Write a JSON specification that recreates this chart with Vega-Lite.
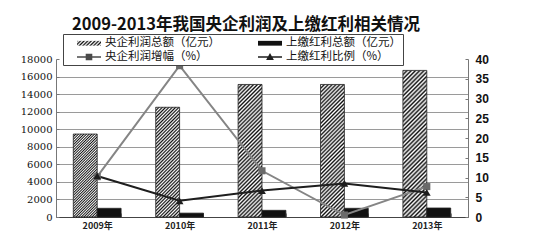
{
  "$schema": "https://vega.github.io/schema/vega-lite/v6.json",
  "width": 412,
  "height": 158,
  "autosize": "none",
  "padding": {"left": 56, "top": 59, "right": 72, "bottom": 23},
  "background": "white",
  "title": {"text": "2009-2013年我国央企利润及上缴红利相关情况", "font": "Noto Sans CJK SC", "fontSize": 16.5, "fontWeight": "bold", "color": "#111", "anchor": "middle", "dx": -16, "dy": 1, "offset": 1},
  "datasets": {
    "bars": [
      {"year": "2009年", "series": "央企利润总额（亿元）", "amount": 9450},
      {"year": "2009年", "series": "上缴红利总额（亿元）", "amount": 990},
      {"year": "2010年", "series": "央企利润总额（亿元）", "amount": 12500},
      {"year": "2010年", "series": "上缴红利总额（亿元）", "amount": 440},
      {"year": "2011年", "series": "央企利润总额（亿元）", "amount": 15100},
      {"year": "2011年", "series": "上缴红利总额（亿元）", "amount": 760},
      {"year": "2012年", "series": "央企利润总额（亿元）", "amount": 15100},
      {"year": "2012年", "series": "上缴红利总额（亿元）", "amount": 990},
      {"year": "2013年", "series": "央企利润总额（亿元）", "amount": 16700},
      {"year": "2013年", "series": "上缴红利总额（亿元）", "amount": 1025}
    ],
    "pcts": [
      {"year": "2009年", "series": "央企利润增幅（%）", "pct": 10.2},
      {"year": "2010年", "series": "央企利润增幅（%）", "pct": 38.3},
      {"year": "2011年", "series": "央企利润增幅（%）", "pct": 11.7},
      {"year": "2012年", "series": "央企利润增幅（%）", "pct": 0.5},
      {"year": "2013年", "series": "央企利润增幅（%）", "pct": 7.7},
      {"year": "2009年", "series": "上缴红利比例（%）", "pct": 10.4},
      {"year": "2010年", "series": "上缴红利比例（%）", "pct": 4.1},
      {"year": "2011年", "series": "上缴红利比例（%）", "pct": 6.7},
      {"year": "2012年", "series": "上缴红利比例（%）", "pct": 8.5},
      {"year": "2013年", "series": "上缴红利比例（%）", "pct": 6.2}
    ]
  },
  "layer": [
    {
      "data": {"name": "bars"},
      "mark": {"type": "bar", "stroke": "#222", "strokeWidth": 0.8},
      "encoding": {
        "x": {"field": "year", "type": "nominal", "scale": {"paddingInner": 0.42, "paddingOuter": 0.21},
          "axis": {"title": null, "labelAngle": 0, "labelFont": "Noto Sans CJK SC", "labelFontSize": 9, "labelFontWeight": "bold", "labelColor": "#222", "labelPadding": 8, "domainColor": "#444", "domainWidth": 1, "ticks": true, "tickBand": "extent", "tickSize": -4, "tickColor": "#888"}},
        "xOffset": {"field": "series", "type": "nominal", "scale": {"domain": ["央企利润总额（亿元）", "上缴红利总额（亿元）"], "paddingInner": 0, "paddingOuter": 0}},
        "y": {"field": "amount", "type": "quantitative", "scale": {"domain": [0, 18000], "nice": false},
          "axis": {"title": null, "format": "d", "values": [0, 2000, 4000, 6000, 8000, 10000, 12000, 14000, 16000, 18000], "labelFont": "DejaVu Serif", "labelFontSize": 10, "labelColor": "#111", "labelPadding": 7, "domainColor": "#777", "ticks": true, "tickSize": -3, "tickColor": "#777", "grid": true, "gridColor": "#9a9a9a", "gridWidth": 1.2, "gridOpacity": {"condition": {"test": "datum.value === 18000", "value": 0}, "value": 1}}},
        "fill": {
          "condition": [
            {"test": "datum.series === '央企利润总额（亿元）' && datum.year === '2009年'", "value": {"gradient": "linear", "x1": 0, "y1": 0, "x2": 0.344, "y2": 1.19, "stops": [{"offset":0,"color":"#111"},{"offset":0.0125,"color":"#fff"},{"offset":0.025,"color":"#111"},{"offset":0.0375,"color":"#fff"},{"offset":0.05,"color":"#111"},{"offset":0.0625,"color":"#fff"},{"offset":0.075,"color":"#111"},{"offset":0.0875,"color":"#fff"},{"offset":0.1,"color":"#111"},{"offset":0.1125,"color":"#fff"},{"offset":0.125,"color":"#111"},{"offset":0.1375,"color":"#fff"},{"offset":0.15,"color":"#111"},{"offset":0.1625,"color":"#fff"},{"offset":0.175,"color":"#111"},{"offset":0.1875,"color":"#fff"},{"offset":0.2,"color":"#111"},{"offset":0.2125,"color":"#fff"},{"offset":0.225,"color":"#111"},{"offset":0.2375,"color":"#fff"},{"offset":0.25,"color":"#111"},{"offset":0.2625,"color":"#fff"},{"offset":0.275,"color":"#111"},{"offset":0.2875,"color":"#fff"},{"offset":0.3,"color":"#111"},{"offset":0.3125,"color":"#fff"},{"offset":0.325,"color":"#111"},{"offset":0.3375,"color":"#fff"},{"offset":0.35,"color":"#111"},{"offset":0.3625,"color":"#fff"},{"offset":0.375,"color":"#111"},{"offset":0.3875,"color":"#fff"},{"offset":0.4,"color":"#111"},{"offset":0.4125,"color":"#fff"},{"offset":0.425,"color":"#111"},{"offset":0.4375,"color":"#fff"},{"offset":0.45,"color":"#111"},{"offset":0.4625,"color":"#fff"},{"offset":0.475,"color":"#111"},{"offset":0.4875,"color":"#fff"},{"offset":0.5,"color":"#111"},{"offset":0.5125,"color":"#fff"},{"offset":0.525,"color":"#111"},{"offset":0.5375,"color":"#fff"},{"offset":0.55,"color":"#111"},{"offset":0.5625,"color":"#fff"},{"offset":0.575,"color":"#111"},{"offset":0.5875,"color":"#fff"},{"offset":0.6,"color":"#111"},{"offset":0.6125,"color":"#fff"},{"offset":0.625,"color":"#111"},{"offset":0.6375,"color":"#fff"},{"offset":0.65,"color":"#111"},{"offset":0.6625,"color":"#fff"},{"offset":0.675,"color":"#111"},{"offset":0.6875,"color":"#fff"},{"offset":0.7,"color":"#111"},{"offset":0.7125,"color":"#fff"},{"offset":0.725,"color":"#111"},{"offset":0.7375,"color":"#fff"},{"offset":0.75,"color":"#111"},{"offset":0.7625,"color":"#fff"},{"offset":0.775,"color":"#111"},{"offset":0.7875,"color":"#fff"},{"offset":0.8,"color":"#111"},{"offset":0.8125,"color":"#fff"},{"offset":0.825,"color":"#111"},{"offset":0.8375,"color":"#fff"},{"offset":0.85,"color":"#111"},{"offset":0.8625,"color":"#fff"},{"offset":0.875,"color":"#111"},{"offset":0.8875,"color":"#fff"},{"offset":0.9,"color":"#111"},{"offset":0.9125,"color":"#fff"},{"offset":0.925,"color":"#111"},{"offset":0.9375,"color":"#fff"},{"offset":0.95,"color":"#111"},{"offset":0.9625,"color":"#fff"},{"offset":0.975,"color":"#111"},{"offset":0.9875,"color":"#fff"},{"offset":1,"color":"#111"}]}},
            {"test": "datum.series === '央企利润总额（亿元）' && datum.year === '2010年'", "value": {"gradient": "linear", "x1": 0, "y1": 0, "x2": 0.2545, "y2": 1.1632, "stops": [{"offset":0,"color":"#111"},{"offset":0.0125,"color":"#fff"},{"offset":0.025,"color":"#111"},{"offset":0.0375,"color":"#fff"},{"offset":0.05,"color":"#111"},{"offset":0.0625,"color":"#fff"},{"offset":0.075,"color":"#111"},{"offset":0.0875,"color":"#fff"},{"offset":0.1,"color":"#111"},{"offset":0.1125,"color":"#fff"},{"offset":0.125,"color":"#111"},{"offset":0.1375,"color":"#fff"},{"offset":0.15,"color":"#111"},{"offset":0.1625,"color":"#fff"},{"offset":0.175,"color":"#111"},{"offset":0.1875,"color":"#fff"},{"offset":0.2,"color":"#111"},{"offset":0.2125,"color":"#fff"},{"offset":0.225,"color":"#111"},{"offset":0.2375,"color":"#fff"},{"offset":0.25,"color":"#111"},{"offset":0.2625,"color":"#fff"},{"offset":0.275,"color":"#111"},{"offset":0.2875,"color":"#fff"},{"offset":0.3,"color":"#111"},{"offset":0.3125,"color":"#fff"},{"offset":0.325,"color":"#111"},{"offset":0.3375,"color":"#fff"},{"offset":0.35,"color":"#111"},{"offset":0.3625,"color":"#fff"},{"offset":0.375,"color":"#111"},{"offset":0.3875,"color":"#fff"},{"offset":0.4,"color":"#111"},{"offset":0.4125,"color":"#fff"},{"offset":0.425,"color":"#111"},{"offset":0.4375,"color":"#fff"},{"offset":0.45,"color":"#111"},{"offset":0.4625,"color":"#fff"},{"offset":0.475,"color":"#111"},{"offset":0.4875,"color":"#fff"},{"offset":0.5,"color":"#111"},{"offset":0.5125,"color":"#fff"},{"offset":0.525,"color":"#111"},{"offset":0.5375,"color":"#fff"},{"offset":0.55,"color":"#111"},{"offset":0.5625,"color":"#fff"},{"offset":0.575,"color":"#111"},{"offset":0.5875,"color":"#fff"},{"offset":0.6,"color":"#111"},{"offset":0.6125,"color":"#fff"},{"offset":0.625,"color":"#111"},{"offset":0.6375,"color":"#fff"},{"offset":0.65,"color":"#111"},{"offset":0.6625,"color":"#fff"},{"offset":0.675,"color":"#111"},{"offset":0.6875,"color":"#fff"},{"offset":0.7,"color":"#111"},{"offset":0.7125,"color":"#fff"},{"offset":0.725,"color":"#111"},{"offset":0.7375,"color":"#fff"},{"offset":0.75,"color":"#111"},{"offset":0.7625,"color":"#fff"},{"offset":0.775,"color":"#111"},{"offset":0.7875,"color":"#fff"},{"offset":0.8,"color":"#111"},{"offset":0.8125,"color":"#fff"},{"offset":0.825,"color":"#111"},{"offset":0.8375,"color":"#fff"},{"offset":0.85,"color":"#111"},{"offset":0.8625,"color":"#fff"},{"offset":0.875,"color":"#111"},{"offset":0.8875,"color":"#fff"},{"offset":0.9,"color":"#111"},{"offset":0.9125,"color":"#fff"},{"offset":0.925,"color":"#111"},{"offset":0.9375,"color":"#fff"},{"offset":0.95,"color":"#111"},{"offset":0.9625,"color":"#fff"},{"offset":0.975,"color":"#111"},{"offset":0.9875,"color":"#fff"},{"offset":1,"color":"#111"}]}},
            {"test": "datum.series === '央企利润总额（亿元）' && (datum.year === '2011年' || datum.year === '2012年')", "value": {"gradient": "linear", "x1": 0, "y1": 0, "x2": 0.2071, "y2": 1.1436, "stops": [{"offset":0,"color":"#111"},{"offset":0.0125,"color":"#fff"},{"offset":0.025,"color":"#111"},{"offset":0.0375,"color":"#fff"},{"offset":0.05,"color":"#111"},{"offset":0.0625,"color":"#fff"},{"offset":0.075,"color":"#111"},{"offset":0.0875,"color":"#fff"},{"offset":0.1,"color":"#111"},{"offset":0.1125,"color":"#fff"},{"offset":0.125,"color":"#111"},{"offset":0.1375,"color":"#fff"},{"offset":0.15,"color":"#111"},{"offset":0.1625,"color":"#fff"},{"offset":0.175,"color":"#111"},{"offset":0.1875,"color":"#fff"},{"offset":0.2,"color":"#111"},{"offset":0.2125,"color":"#fff"},{"offset":0.225,"color":"#111"},{"offset":0.2375,"color":"#fff"},{"offset":0.25,"color":"#111"},{"offset":0.2625,"color":"#fff"},{"offset":0.275,"color":"#111"},{"offset":0.2875,"color":"#fff"},{"offset":0.3,"color":"#111"},{"offset":0.3125,"color":"#fff"},{"offset":0.325,"color":"#111"},{"offset":0.3375,"color":"#fff"},{"offset":0.35,"color":"#111"},{"offset":0.3625,"color":"#fff"},{"offset":0.375,"color":"#111"},{"offset":0.3875,"color":"#fff"},{"offset":0.4,"color":"#111"},{"offset":0.4125,"color":"#fff"},{"offset":0.425,"color":"#111"},{"offset":0.4375,"color":"#fff"},{"offset":0.45,"color":"#111"},{"offset":0.4625,"color":"#fff"},{"offset":0.475,"color":"#111"},{"offset":0.4875,"color":"#fff"},{"offset":0.5,"color":"#111"},{"offset":0.5125,"color":"#fff"},{"offset":0.525,"color":"#111"},{"offset":0.5375,"color":"#fff"},{"offset":0.55,"color":"#111"},{"offset":0.5625,"color":"#fff"},{"offset":0.575,"color":"#111"},{"offset":0.5875,"color":"#fff"},{"offset":0.6,"color":"#111"},{"offset":0.6125,"color":"#fff"},{"offset":0.625,"color":"#111"},{"offset":0.6375,"color":"#fff"},{"offset":0.65,"color":"#111"},{"offset":0.6625,"color":"#fff"},{"offset":0.675,"color":"#111"},{"offset":0.6875,"color":"#fff"},{"offset":0.7,"color":"#111"},{"offset":0.7125,"color":"#fff"},{"offset":0.725,"color":"#111"},{"offset":0.7375,"color":"#fff"},{"offset":0.75,"color":"#111"},{"offset":0.7625,"color":"#fff"},{"offset":0.775,"color":"#111"},{"offset":0.7875,"color":"#fff"},{"offset":0.8,"color":"#111"},{"offset":0.8125,"color":"#fff"},{"offset":0.825,"color":"#111"},{"offset":0.8375,"color":"#fff"},{"offset":0.85,"color":"#111"},{"offset":0.8625,"color":"#fff"},{"offset":0.875,"color":"#111"},{"offset":0.8875,"color":"#fff"},{"offset":0.9,"color":"#111"},{"offset":0.9125,"color":"#fff"},{"offset":0.925,"color":"#111"},{"offset":0.9375,"color":"#fff"},{"offset":0.95,"color":"#111"},{"offset":0.9625,"color":"#fff"},{"offset":0.975,"color":"#111"},{"offset":0.9875,"color":"#fff"},{"offset":1,"color":"#111"}]}},
            {"test": "datum.series === '央企利润总额（亿元）' && datum.year === '2013年'", "value": {"gradient": "linear", "x1": 0, "y1": 0, "x2": 0.1855, "y2": 1.1334, "stops": [{"offset":0,"color":"#111"},{"offset":0.0125,"color":"#fff"},{"offset":0.025,"color":"#111"},{"offset":0.0375,"color":"#fff"},{"offset":0.05,"color":"#111"},{"offset":0.0625,"color":"#fff"},{"offset":0.075,"color":"#111"},{"offset":0.0875,"color":"#fff"},{"offset":0.1,"color":"#111"},{"offset":0.1125,"color":"#fff"},{"offset":0.125,"color":"#111"},{"offset":0.1375,"color":"#fff"},{"offset":0.15,"color":"#111"},{"offset":0.1625,"color":"#fff"},{"offset":0.175,"color":"#111"},{"offset":0.1875,"color":"#fff"},{"offset":0.2,"color":"#111"},{"offset":0.2125,"color":"#fff"},{"offset":0.225,"color":"#111"},{"offset":0.2375,"color":"#fff"},{"offset":0.25,"color":"#111"},{"offset":0.2625,"color":"#fff"},{"offset":0.275,"color":"#111"},{"offset":0.2875,"color":"#fff"},{"offset":0.3,"color":"#111"},{"offset":0.3125,"color":"#fff"},{"offset":0.325,"color":"#111"},{"offset":0.3375,"color":"#fff"},{"offset":0.35,"color":"#111"},{"offset":0.3625,"color":"#fff"},{"offset":0.375,"color":"#111"},{"offset":0.3875,"color":"#fff"},{"offset":0.4,"color":"#111"},{"offset":0.4125,"color":"#fff"},{"offset":0.425,"color":"#111"},{"offset":0.4375,"color":"#fff"},{"offset":0.45,"color":"#111"},{"offset":0.4625,"color":"#fff"},{"offset":0.475,"color":"#111"},{"offset":0.4875,"color":"#fff"},{"offset":0.5,"color":"#111"},{"offset":0.5125,"color":"#fff"},{"offset":0.525,"color":"#111"},{"offset":0.5375,"color":"#fff"},{"offset":0.55,"color":"#111"},{"offset":0.5625,"color":"#fff"},{"offset":0.575,"color":"#111"},{"offset":0.5875,"color":"#fff"},{"offset":0.6,"color":"#111"},{"offset":0.6125,"color":"#fff"},{"offset":0.625,"color":"#111"},{"offset":0.6375,"color":"#fff"},{"offset":0.65,"color":"#111"},{"offset":0.6625,"color":"#fff"},{"offset":0.675,"color":"#111"},{"offset":0.6875,"color":"#fff"},{"offset":0.7,"color":"#111"},{"offset":0.7125,"color":"#fff"},{"offset":0.725,"color":"#111"},{"offset":0.7375,"color":"#fff"},{"offset":0.75,"color":"#111"},{"offset":0.7625,"color":"#fff"},{"offset":0.775,"color":"#111"},{"offset":0.7875,"color":"#fff"},{"offset":0.8,"color":"#111"},{"offset":0.8125,"color":"#fff"},{"offset":0.825,"color":"#111"},{"offset":0.8375,"color":"#fff"},{"offset":0.85,"color":"#111"},{"offset":0.8625,"color":"#fff"},{"offset":0.875,"color":"#111"},{"offset":0.8875,"color":"#fff"},{"offset":0.9,"color":"#111"},{"offset":0.9125,"color":"#fff"},{"offset":0.925,"color":"#111"},{"offset":0.9375,"color":"#fff"},{"offset":0.95,"color":"#111"},{"offset":0.9625,"color":"#fff"},{"offset":0.975,"color":"#111"},{"offset":0.9875,"color":"#fff"},{"offset":1,"color":"#111"}]}}
          ],
          "value": "#111"
        }
      }
    },
    {
      "data": {"name": "pcts"},
      "encoding": {
        "x": {"field": "year", "type": "nominal"},
        "y": {"field": "pct", "type": "quantitative", "scale": {"domain": [0, 40], "nice": false},
          "axis": {"orient": "right", "title": null, "values": [0, 5, 10, 15, 20, 25, 30, 35, 40], "labelFont": "Liberation Sans", "labelFontSize": 12, "labelFontWeight": "bold", "labelColor": "#111", "labelPadding": 10, "domainColor": "#777", "ticks": true, "tickSize": -3, "tickColor": "#777", "grid": false}}
      },
      "layer": [
        {
          "mark": {"type": "line", "strokeWidth": 2},
          "encoding": {
            "stroke": {"field": "series", "type": "nominal", "scale": {"domain": ["央企利润增幅（%）", "上缴红利比例（%）"], "range": ["#858585", "#1e1e1e"]}, "legend": null}
          }
        },
        {
          "transform": [{"filter": "datum.series === '央企利润增幅（%）'"}],
          "mark": {"type": "point", "filled": true, "opacity": 1, "size": 50, "shape": "square", "color": "#6a6a6a"}
        },
        {
          "transform": [{"filter": "datum.series === '上缴红利比例（%）'"}],
          "mark": {"type": "point", "filled": true, "opacity": 1, "size": 60, "shape": "triangle-up", "color": "#1e1e1e"}
        },
        {
          "transform": [{"filter": "datum.pct < -1000"}],
          "mark": {"type": "point", "filled": true, "opacity": 1},
          "encoding": {
            "color": {"field": "series", "type": "nominal",
              "scale": {"domain": ["央企利润总额（亿元）", "央企利润增幅（%）", "上缴红利总额（亿元）", "上缴红利比例（%）"], "range": [{"signal": "{gradient: 'linear', x1: 0, y1: 0, x2: 1.154, y2: 0.231, stops: [{offset: 0, color: '#111'}, {offset: 0.0625, color: '#fff'}, {offset: 0.125, color: '#111'}, {offset: 0.1875, color: '#fff'}, {offset: 0.25, color: '#111'}, {offset: 0.3125, color: '#fff'}, {offset: 0.375, color: '#111'}, {offset: 0.4375, color: '#fff'}, {offset: 0.5, color: '#111'}, {offset: 0.5625, color: '#fff'}, {offset: 0.625, color: '#111'}, {offset: 0.6875, color: '#fff'}, {offset: 0.75, color: '#111'}, {offset: 0.8125, color: '#fff'}, {offset: 0.875, color: '#111'}, {offset: 0.9375, color: '#fff'}, {offset: 1, color: '#111'}]}"}, "#4a4a4a", "#111111", "#1e1e1e"]},
              "legend": {
                "orient": "none", "legendX": 7, "legendY": -25, "columns": 2, "title": null,
                "strokeColor": "#444", "fillColor": "white", "padding": 2,
                "symbolSize": 144, "symbolOffset": 17, "symbolStrokeWidth": 1.2, "symbolStrokeColor": "#333", "symbolOpacity": 1,
                "labelFont": "Noto Sans CJK SC", "labelFontSize": 11.5, "labelColor": "#111", "labelOffset": 9, "labelLimit": 200,
                "columnPadding": 26, "rowPadding": 1
              }},
            "shape": {"field": "series", "type": "nominal",
              "scale": {"domain": ["央企利润总额（亿元）", "央企利润增幅（%）", "上缴红利总额（亿元）", "上缴红利比例（%）"], "range": ["M-2,-0.4H2V0.4H-2Z", "M-2,-0.13H2V0.13H-2ZM-0.55,-0.55H0.55V0.55H-0.55Z", "M-2,-0.4H2V0.4H-2Z", "M-2,-0.13H2V0.13H-2ZM0,-0.65L0.65,0.5H-0.65Z"]}}
          }
        }
      ]
    }
  ],
  "resolve": {"scale": {"y": "independent"}},
  "config": {"view": {"stroke": null}}
}
